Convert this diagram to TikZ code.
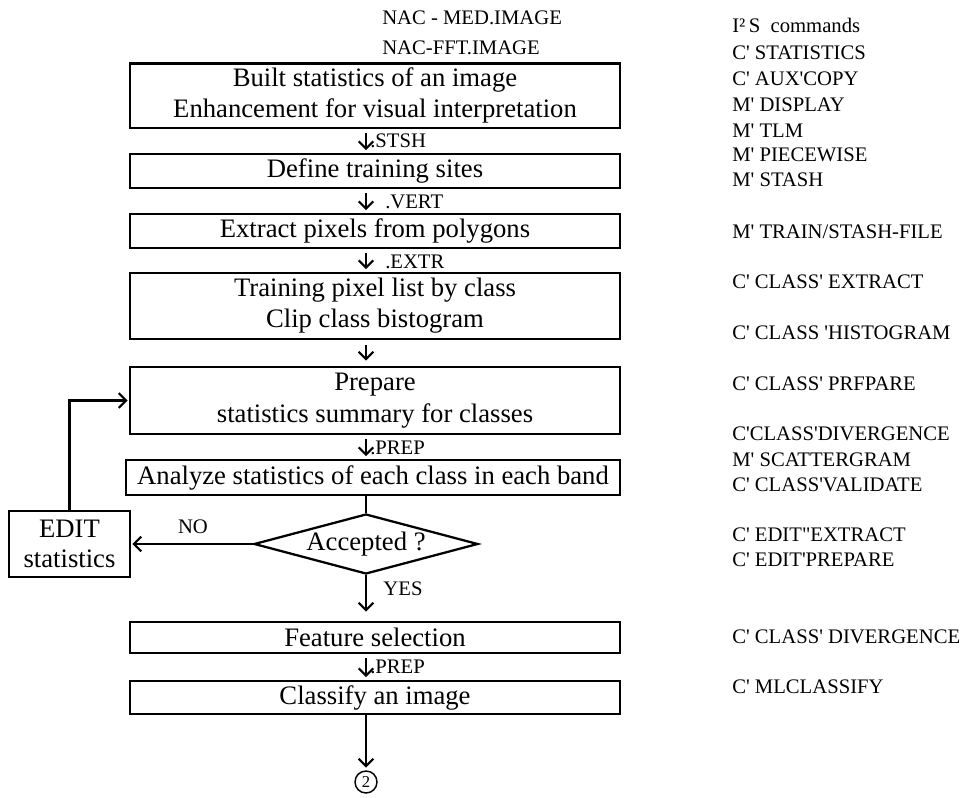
\documentclass[tikz,border=0pt]{standalone}
\usepackage{fontspec}
\setmainfont{Liberation Serif}[Ligatures=TeXOff]
\usetikzlibrary{arrows.meta,shapes.geometric}
\newcommand\mainf{\fontsize{20pt}{23.25pt}\selectfont}
\newcommand\smallf{\fontsize{15.5pt}{19.5pt}\selectfont}
\tikzset{
  box/.style={draw,line width=1.7pt,inner sep=0pt,align=center,font=\mainf,minimum width=367.5pt},
  lbl/.style={inner sep=0pt,anchor=west,font=\smallf},
  cmd/.style={inner sep=0pt,anchor=west,font=\smallf},
  conn/.style={line width=1.6pt},
  arr/.style={line width=1.6pt,-{Straight Barb[length=5.5pt,width=11pt,line width=1.6pt]}},
}
\begin{document}
\begin{tikzpicture}[x=0.75pt,y=-0.75pt]
\useasboundingbox (0,0) rectangle (968,798);
\coordinate (ax) at (366,0);

% top inputs
\node[lbl] (nac1) at (382,18) {NAC - MED.IMAGE};
\node[lbl] (nac2) at (382,48) {NAC-FFT.IMAGE};

% main boxes
\node[box,minimum height=48.4pt] (b1) at (375,95.75) {Built statistics of an image\\Enhancement for visual interpretation};
\node[box,minimum height=25.5pt] (b2) at (375,171) {Define training sites};
\node[box,minimum height=25.5pt] (b3) at (375,231) {Extract pixels from polygons};
\node[box,minimum height=49.5pt] (b4) at (375,306) {Training pixel list by class\\Clip class bistogram};
\node[box,minimum height=50.25pt,font=\fontsize{20pt}{24pt}\selectfont] (b5) at (375,400.5) {Prepare\\statistics summary for classes};
\node[box,minimum height=26.25pt,minimum width=370.5pt] (b6) at (373,477.5) {Analyze statistics of each class in each band};
\node[draw,diamond,line width=1.7pt,inner sep=0pt,aspect=3.7,minimum width=168pt,minimum height=45pt,font=\mainf] (dia) at (366,544) {Accepted ?};
\node[box,minimum width=90.75pt,minimum height=49.5pt,font=\fontsize{20pt}{22.5pt}\selectfont] (edit) at (69.5,544) {EDIT\\statistics};
\node[box,minimum height=23.25pt] (b7) at (375,637.5) {Feature selection};
\node[box,minimum height=24.75pt] (b8) at (375,697.5) {Classify an image};
\node[draw,circle,line width=1.1pt,inner sep=0pt,minimum size=16.5pt,font=\fontsize{12.5pt}{14pt}\selectfont] (c2) at (366,782) {2};

% arrow labels
\node[lbl] (l1) at (370,141) {.STSH};
\node[lbl] (l2) at (385,202) {.VERT};
\node[lbl] (l3) at (385,262) {.EXTR};
\node[lbl] (l4) at (370,448) {.PREP};
\node[lbl] (l5) at (370,667) {.PREP};
\node[inner sep=0pt,font=\smallf] (no) at (193,527) {NO};
\node[inner sep=0pt,font=\smallf] (yes) at (403,589) {YES};

% connectors
\draw[arr,shorten <=3pt,shorten >=2pt] (b1.south -| ax) -- (b2.north -| ax);
\draw[arr,shorten <=3pt,shorten >=2pt] (b2.south -| ax) -- (b3.north -| ax);
\draw[arr,shorten <=3pt,shorten >=2pt] (b3.south -| ax) -- (b4.north -| ax);
\draw[arr,shorten <=4pt,shorten >=4pt] (b4.south -| ax) -- (b5.north -| ax);
\draw[arr,shorten <=3pt,shorten >=2pt] (b5.south -| ax) -- (b6.north -| ax);
\draw[conn] (b6.south -| ax) -- (dia.north);
\draw[arr,shorten >=7pt] (dia.south) -- (b7.north -| ax);
\draw[arr,shorten <=3pt,shorten >=2pt] (b7.south -| ax) -- (b8.north -| ax);
\draw[arr,shorten >=2pt] (b8.south -| ax) -- (c2.north);
\draw[arr,shorten >=1pt] (dia.west) -- (edit.east);
\draw[arr,shorten >=1pt] (edit.north) |- (b5.west);

% command column
\node[cmd] (r1) at (732,25) {I²\,S~~commands};
\node[cmd] (r2) at (732,53) {C' STATISTICS};
\node[cmd] (r3) at (732,79) {C' AUX'COPY};
\node[cmd] (r4) at (732,105) {M' DISPLAY};
\node[cmd] (r5) at (732,131) {M' TLM};
\node[cmd] (r6) at (732,155) {M' PIECEWISE};
\node[cmd] (r7) at (732,180) {M' STASH};
\node[cmd] (r8) at (732,232) {M' TRAIN/STASH-FILE};
\node[cmd] (r9) at (732,282) {C' CLASS' EXTRACT};
\node[cmd] (r10) at (732,333) {C' CLASS 'HISTOGRAM};
\node[cmd] (r11) at (732,384) {C' CLASS' PRFPARE};
\node[cmd] (r12) at (732,434) {C'CLASS'DIVERGENCE};
\node[cmd] (r13) at (732,460) {M' SCATTERGRAM};
\node[cmd] (r14) at (732,485) {C' CLASS'VALIDATE};
\node[cmd] (r15) at (732,535) {C' EDIT"EXTRACT};
\node[cmd] (r16) at (732,560) {C' EDIT'PREPARE};
\node[cmd] (r17) at (732,637) {C' CLASS' DIVERGENCE};
\node[cmd] (r18) at (732,687) {C' MLCLASSIFY};
\end{tikzpicture}
\end{document}
